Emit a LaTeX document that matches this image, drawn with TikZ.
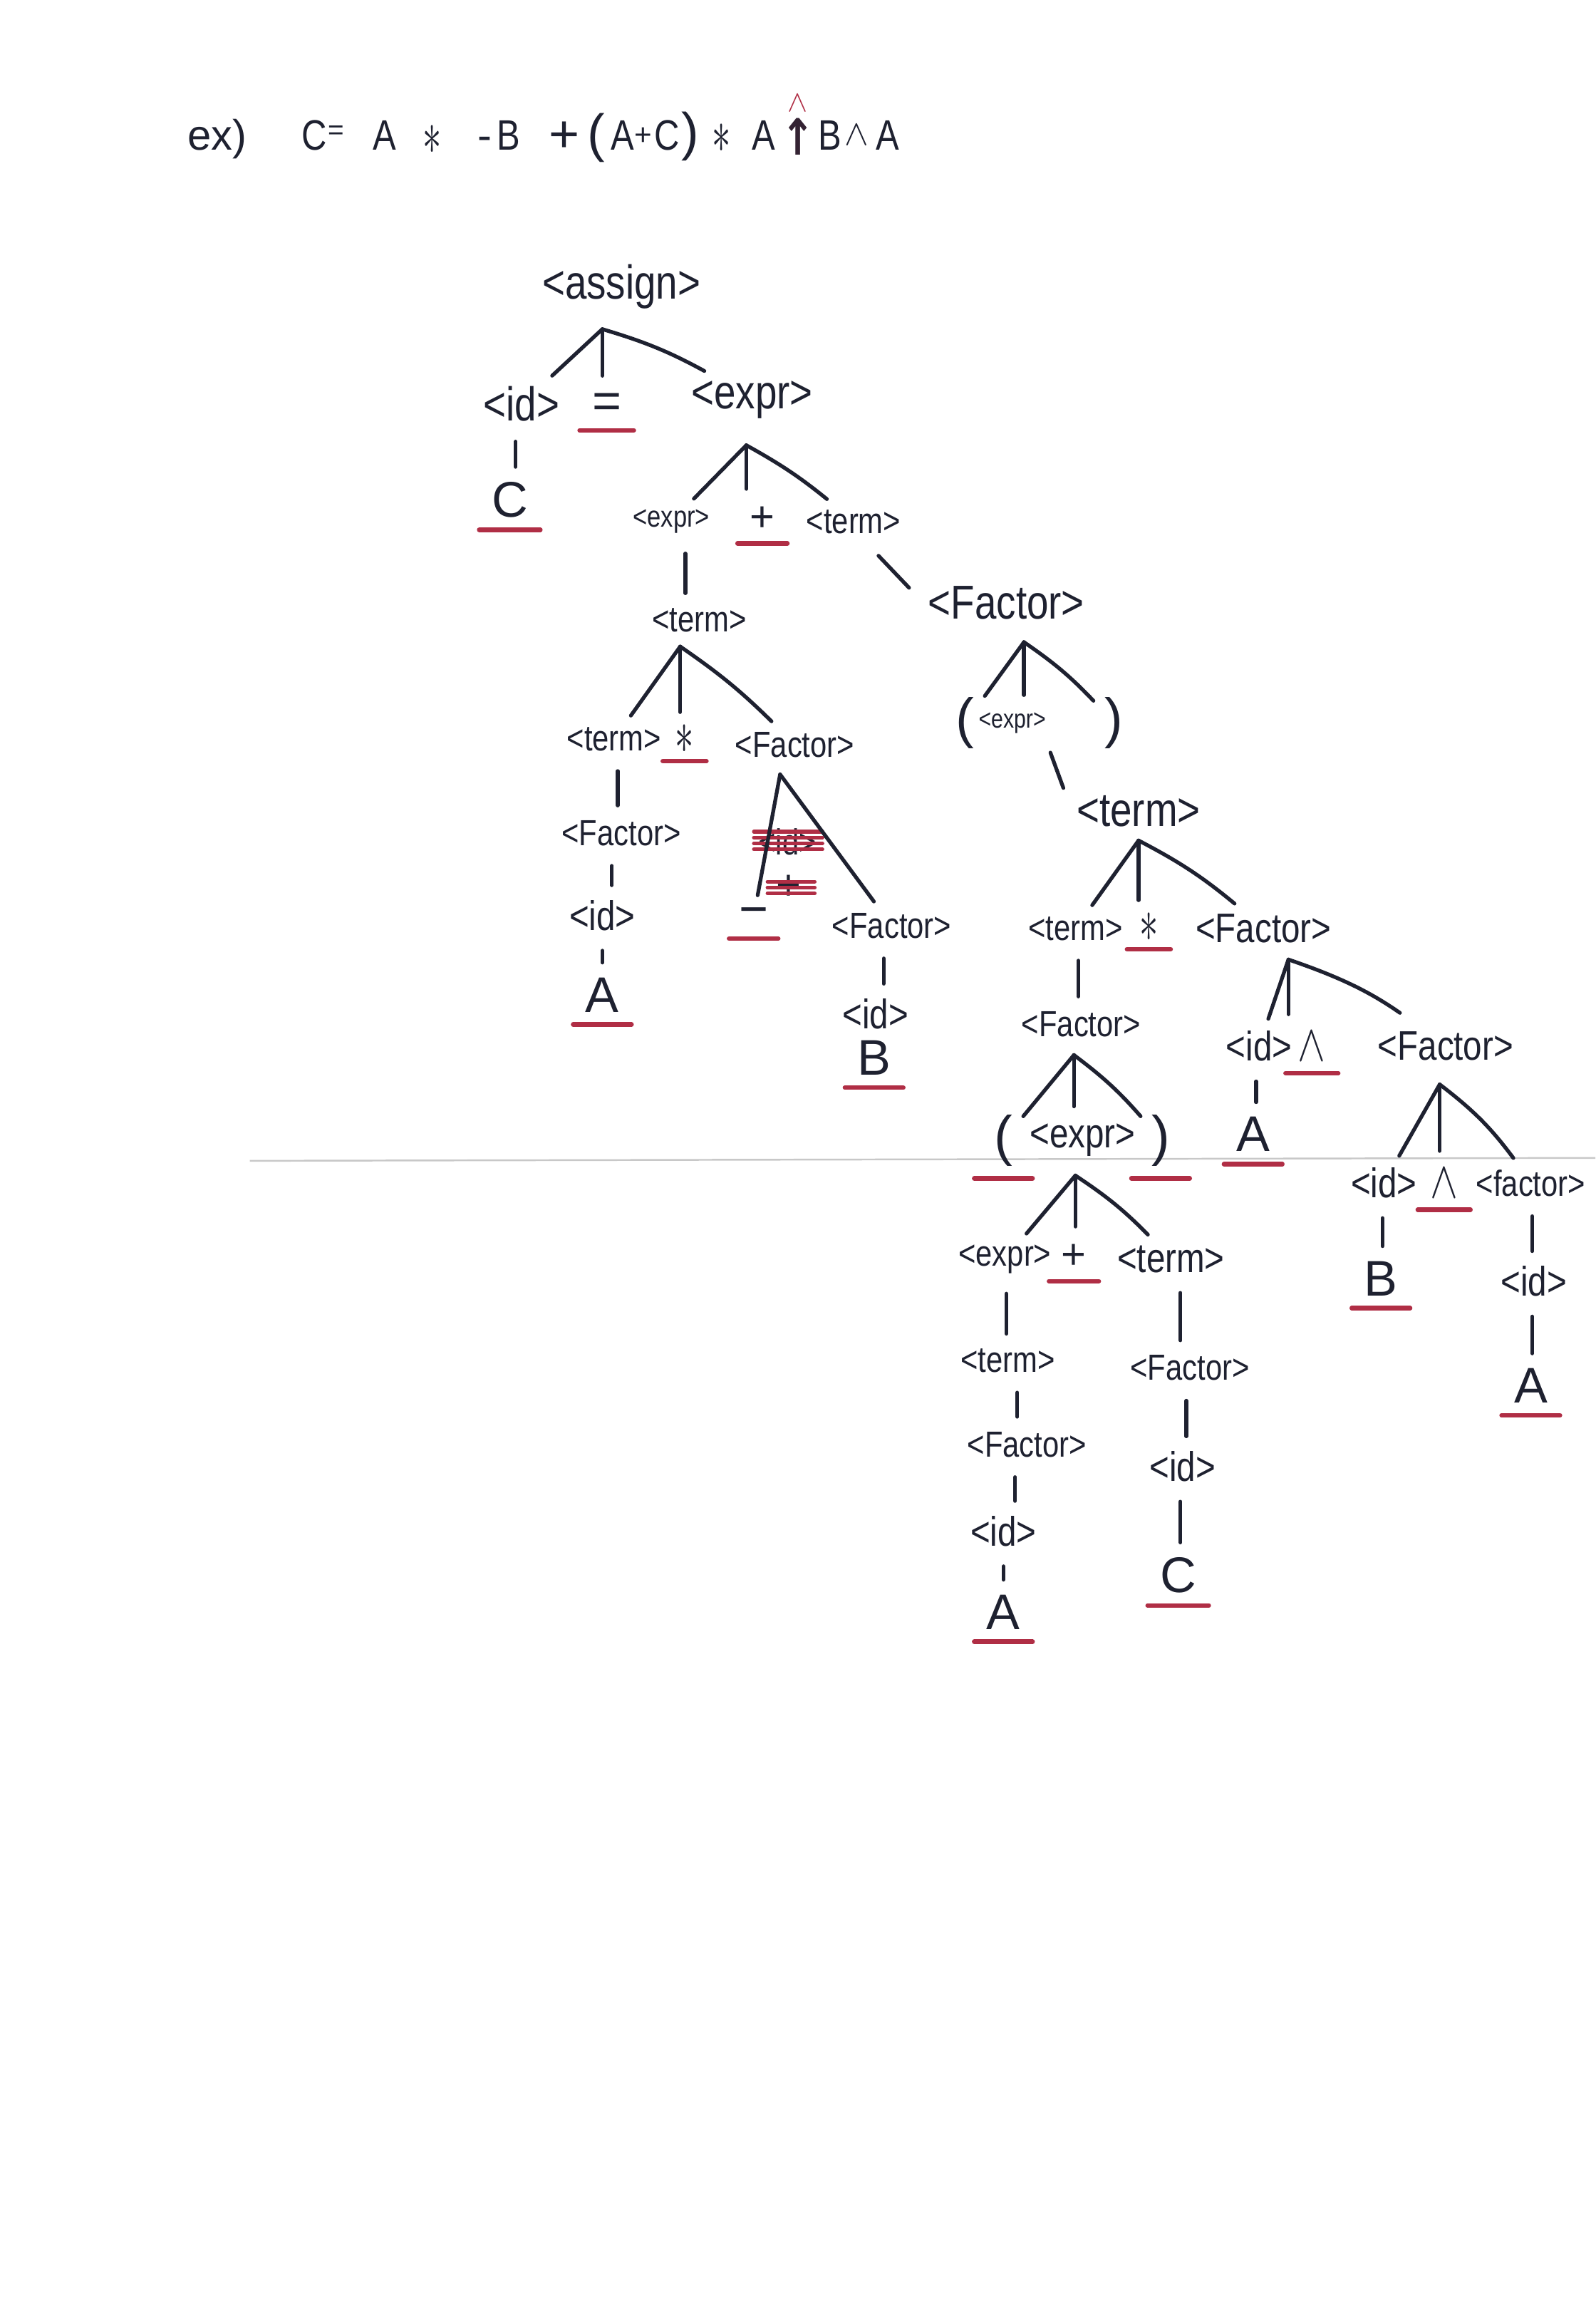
\documentclass[tikz,border=0pt]{standalone}
\usepackage{fontspec}
\setmainfont{Liberation Sans}
\newfontfamily\dvfont{DejaVu Sans}
\usetikzlibrary{calc}
\definecolor{ink}{HTML}{1E2130}
\definecolor{redpen}{HTML}{B02E45}
\definecolor{foldgray}{HTML}{C8C8C8}
\newcommand{\hw}[1]{\scalebox{0.82}[1]{#1}}
\newcommand{\nast}{\scalebox{0.6}[1]{$\ast$}}
\newcommand{\nwedge}{\scalebox{0.8}[1]{$\wedge$}}
\newcommand{\ulin}[2][1pt]{\draw[ul] ([yshift=-2pt,xshift=-#1]#2.south west) -- ([yshift=-2pt,xshift=#1]#2.south east);}
\newcommand{\vlink}[2]{\path ($(#1.south)!.5!(#2.north)$) coordinate (vm); \draw[vl] (vm |- #1.south) -- (vm |- #2.north);}
\tikzset{
  nt/.style={inner sep=1pt, outer sep=2pt, text=ink},
  ntL/.style={nt, font=\fontsize{19}{22}\selectfont},
  ntM/.style={nt, font=\fontsize{16.5}{20}\selectfont},
  ntS/.style={nt, font=\fontsize{14.5}{17}\selectfont},
  ntXS/.style={nt, font=\fontsize{12}{14}\selectfont},
  ntXXS/.style={nt, font=\fontsize{10.5}{12}\selectfont},
  tm/.style={nt, font=\fontsize{20}{24}\selectfont},
  tmS/.style={nt, font=\fontsize{17}{20}\selectfont},
  tmP/.style={nt, font=\fontsize{22}{26}\selectfont},
  tmA/.style={inner sep=0pt, outer sep=1pt, text=ink, font=\fontsize{38}{40}\selectfont},
  tmW/.style={nt, font=\fontsize{22}{26}\selectfont},
  ttl/.style={inner sep=0pt, anchor=base, text=ink, font=\fontsize{17}{20}\selectfont},
  ttlc/.style={inner sep=0pt, text=ink, font=\fontsize{17}{20}\selectfont},
  ttls/.style={inner sep=0pt, text=ink, font=\fontsize{11}{13}\selectfont},
  ttlP/.style={inner sep=0pt, text=ink, font=\fontsize{21}{24}\selectfont},
  ul/.style={draw=redpen, line width=1.8pt, line cap=round},
  strike/.style={draw=redpen, line width=1.5pt, line cap=round},
  br/.style={draw=ink, line width=1.5pt, line cap=round, shorten >=2pt},
  mid/.style={draw=ink, line width=1.5pt, line cap=round, shorten >=4pt},
  vl/.style={draw=ink, line width=1.5pt, line cap=round, shorten <=5pt, shorten >=3pt},
}
\begin{document}
\begin{tikzpicture}[x=0.020626cm,y=-0.020626cm]
\useasboundingbox (0,0) rectangle (1086,1568);
\fill[white] (0,0) rectangle (1086,1568);
% fold line
\coordinate (fold1) at (170,790);
\coordinate (fold2) at (1086,788);
\draw[foldgray, line width=0.7pt] (fold1) -- (fold2);

% ---------- title ----------
\node[ttl] (t1) at (148,102) {ex)};
\node[ttl] (t2) at (214,102) {\hw{C}};
\node[ttls] (t3) at (229,90) {=};
\node[ttl] (t4) at (262,102) {\hw{A}};
\node[ttlc, font=\fontsize{38}{40}\selectfont] (t5) at (294,95) {\nast};
\node[ttl] (t6) at (330,102) {-};
\node[ttl] (t7) at (346,102) {\hw{B}};
\node[ttlc, font=\fontsize{21}{24}\selectfont] (t8) at (384,93) {+};
\node[ttlP] (t9) at (406,94) {(};
\node[ttl] (t10) at (424,102) {\hw{A}};
\node[ttlc, font=\fontsize{12}{14}\selectfont] (t11) at (438,93) {+};
\node[ttl] (t12) at (454,102) {\hw{C}};
\node[ttlP] (t13) at (470,93) {)};
\node[ttlc, font=\fontsize{34}{36}\selectfont] (t14) at (491,94) {\nast};
\node[ttl] (t15) at (520,102) {\hw{A}};
\node[inner sep=0pt, text=redpen, font=\fontsize{12}{14}\selectfont] (t16) at (543,70) {$\wedge$};
\node[inner sep=0pt, text=ink!85!redpen, font=\dvfont\bfseries\fontsize{20}{22}\selectfont] (t17) at (543,93) {\scalebox{0.8}[1]{↑}};
\node[ttl] (t18) at (565,102) {\hw{B}};
\node[ttlc, font=\fontsize{14}{16}\selectfont] (t19) at (583,92) {$\wedge$};
\node[ttl] (t20) at (604,102) {\hw{A}};

% ---------- tree nodes ----------
\node[ntL] (assign) at (423,195) {\hw{<assign>}};
\node[ntL] (id1) at (355,275) {\hw{<id>}};
\node[tm] (eq1) at (413,276) {=};
\node[ntL] (expr1) at (512,272) {\hw{<expr>}};
\node[tm] (c1) at (347,340) {C};

\node[ntXS] (expr2) at (457,355) {\hw{<expr>}};
\node[tmS] (plus1) at (519,353) {+};
\node[ntS] (term1) at (581,355) {\hw{<term>}};
\node[ntS] (term2) at (476,422) {\hw{<term>}};
\node[ntL] (fac1) at (685,410) {\hw{<Factor>}};

\node[ntS] (term3) at (418,503) {\hw{<term>}};
\node[tmA] (star1) at (466,503) {\nast};
\node[ntS] (fac2) at (541,507) {\hw{<Factor>}};
\node[ntS] (fac3) at (423,567) {\hw{<Factor>}};
\node[ntM] (id2) at (410,623) {\hw{<id>}};
\node[tm] (a1) at (410,677) {A};

\node[ntS] (xid) at (536,573) {\hw{<id>}};
\node[tmS] (xplus) at (537,604) {+};
\node[tm] (minus1) at (513,624) {−};
\node[ntS] (fac4) at (607,630) {\hw{<Factor>}};
\node[ntM] (id3) at (596,690) {\hw{<id>}};
\node[tm] (b1) at (595,720) {B};

\node[tmP] (lp1) at (657,492) {(};
\node[ntXXS] (expr3) at (689,492) {\hw{<expr>}};
\node[tmP] (rp1) at (758,492) {)};
\node[ntL] (term4) at (775,552) {\hw{<term>}};

\node[ntS] (term5) at (732,632) {\hw{<term>}};
\node[tmA] (star2) at (782,631) {\nast};
\node[ntM] (fac5) at (860,632) {\hw{<Factor>}};
\node[ntS] (fac6) at (736,697) {\hw{<Factor>}};

\node[tmP] (lp2) at (683,776) {(};
\node[ntM] (expr4) at (737,776) {\hw{<expr>}};
\node[tmP] (rp2) at (790,776) {)};

\node[ntS] (expr5) at (684,857) {\hw{<expr>}};
\node[tmS] (plus2) at (731,855) {+};
\node[ntM] (term6) at (797,857) {\hw{<term>}};
\node[ntS] (term7) at (686,926) {\hw{<term>}};
\node[ntS] (fac7) at (699,983) {\hw{<Factor>}};
\node[ntM] (id4) at (683,1042) {\hw{<id>}};
\node[tm] (a2) at (683,1097) {A};
\node[ntS] (fac8) at (810,931) {\hw{<Factor>}};
\node[ntM] (id5) at (805,998) {\hw{<id>}};
\node[tm] (c2) at (802,1072) {C};

\node[ntM] (id6) at (857,712) {\hw{<id>}};
\node[tmW] (car1) at (893,712) {\nwedge};
\node[ntM] (fac9) at (984,712) {\hw{<Factor>}};
\node[tm] (a3) at (853,772) {A};

\node[ntM] (id7) at (942,805) {\hw{<id>}};
\node[tmW] (car2) at (983,805) {\nwedge};
\node[ntS] (fac10) at (1042,805) {\hw{<factor>}};
\node[tm] (b2) at (940,870) {B};
\node[ntM] (id8) at (1044,872) {\hw{<id>}};
\node[tm] (a4) at (1042,943) {A};

% ---------- red underlines on terminals ----------
\ulin[2pt]{eq1}
\ulin[2pt]{c1}
\ulin[2pt]{plus1}
\ulin[4pt]{star1}
\ulin[1pt]{minus1}
\ulin[2pt]{a1}
\ulin[2pt]{b1}
\ulin[4pt]{star2}
\ulin[5pt]{lp2}
\ulin[5pt]{rp2}
\ulin[2pt]{plus2}
\ulin[2pt]{a2}
\ulin[2pt]{c2}
\ulin[2pt]{car1}
\ulin[2pt]{a3}
\ulin[2pt]{car2}
\ulin[2pt]{b2}
\ulin[2pt]{a4}

% ---------- crossed-out part ----------
\foreach \yy in {-7,-3,1,5} {
  \draw[strike] ($(xid.west)+(2,\yy)$) -- ($(xid.east)+(-1,\yy)$);
}
\foreach \yy in {-4,0,4} {
  \draw[strike] ($(xplus.west)+(-1,\yy)$) -- ($(xplus.east)+(4,\yy)$);
}

% ---------- apex points ----------
\coordinate (ap1) at (410,224);
\coordinate (ap2) at (508,303);
\coordinate (ap3) at (463,440);
\coordinate (ap4) at (531,527);
\coordinate (ap5) at (697,437);
\coordinate (ap6) at (775,572);
\coordinate (ap7) at (731,718);
\coordinate (ap8) at (732,800);
\coordinate (ap9) at (877,653);
\coordinate (ap10) at (980,738);

% ---------- branches ----------
\draw[br] (ap1) -- (id1);
\draw[mid] (ap1) -- (ap1 |- eq1.north);
\draw[br] (ap1) to[bend left=6] (expr1);

\draw[br] (ap2) -- (expr2);
\draw[mid] (ap2) -- (ap2 |- plus1.north);
\draw[br] (ap2) to[bend left=5] (term1);

\draw[br] (ap3) -- (term3);
\draw[mid] (ap3) -- (ap3 |- star1.north);
\draw[br] (ap3) to[bend left=5] (fac2);

\draw[br] (ap4) -- (minus1);
\draw[br] (ap4) -- (fac4);

\draw[br] (ap5) -- (lp1);
\draw[mid] (ap5) -- (ap5 |- expr3.north);
\draw[br] (ap5) to[bend left=6] (rp1);

\draw[br] (ap6) -- (term5);
\draw[mid] (ap6) -- (ap6 |- star2.north);
\draw[br] (ap6) to[bend left=6] (fac5);

\draw[br] (ap7) -- (lp2);
\draw[mid] (ap7) -- (ap7 |- expr4.north);
\draw[br] (ap7) to[bend left=6] (rp2);

\draw[br] (ap8) -- (expr5);
\draw[mid] (ap8) -- (ap8 |- plus2.north);
\draw[br] (ap8) to[bend left=6] (term6);

\draw[br] (ap9) -- (id6);
\draw[mid] (ap9) -- (ap9 |- car1.north);
\draw[br, shorten >=8pt] (ap9) to[bend left=8] (fac9);

\draw[br] (ap10) -- (id7);
\draw[mid] (ap10) -- (ap10 |- car2.north);
\draw[br] (ap10) to[bend left=8] (fac10);

% diagonal single links
\draw[draw=ink, line width=1.5pt, line cap=round] ($(term1.south)+(17,10)$) -- ($(fac1.west)+(-8,-10)$);
\draw[draw=ink, line width=1.5pt, line cap=round] ($(expr3.south)+(26,8)$) -- ($(term4.north west)+(-4,0)$);

% vertical single links
\vlink{id1}{c1}
\vlink{expr2}{term2}
\vlink{term3}{fac3}
\vlink{fac3}{id2}
\vlink{id2}{a1}
\vlink{fac4}{id3}
\vlink{term5}{fac6}
\vlink{expr5}{term7}
\vlink{term7}{fac7}
\vlink{fac7}{id4}
\vlink{id4}{a2}
\vlink{term6}{fac8}
\vlink{fac8}{id5}
\vlink{id5}{c2}
\vlink{id6}{a3}
\vlink{id7}{b2}
\vlink{fac10}{id8}
\vlink{id8}{a4}
\end{tikzpicture}
\end{document}
